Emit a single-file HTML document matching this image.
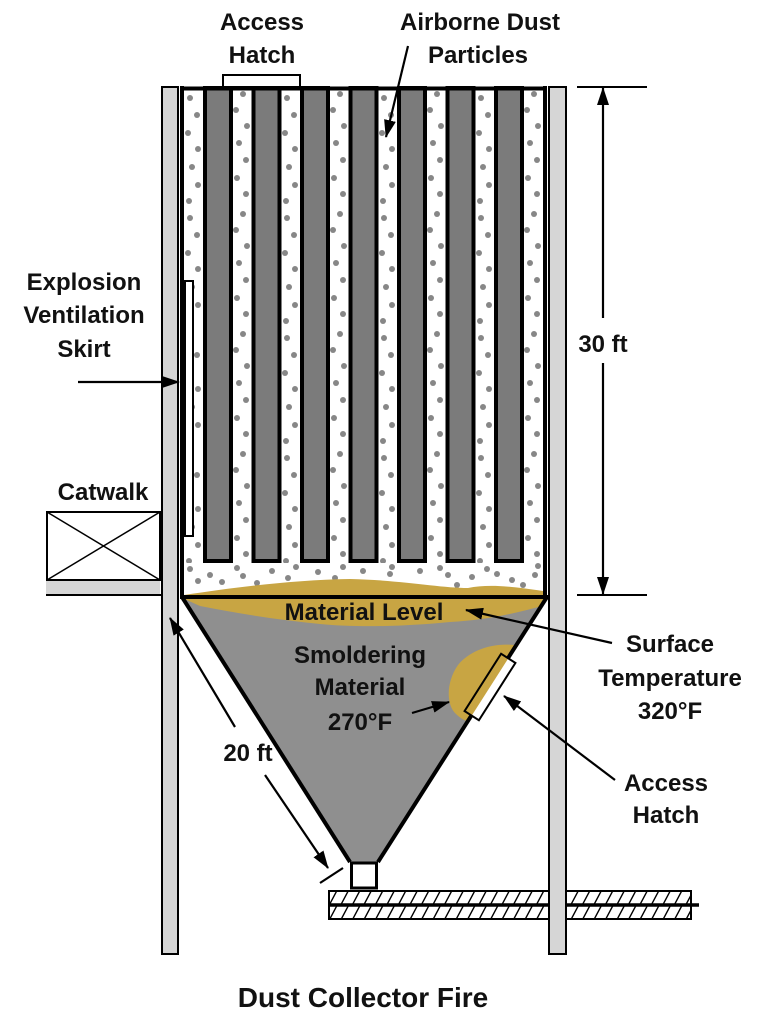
<!DOCTYPE html>
<html><head><meta charset="utf-8"><style>
html,body{margin:0;padding:0;background:#fff;}
svg{display:block;}
text{font-family:"Liberation Sans",sans-serif;font-weight:bold;fill:#111;text-anchor:middle;}
</style></head><body>
<svg width="759" height="1024" viewBox="0 0 759 1024" xmlns="http://www.w3.org/2000/svg">
<defs>
<pattern id="dots" patternUnits="userSpaceOnUse" x="184" y="90" width="97" height="120">
<g fill="#878787">
<circle cx="6" cy="8" r="3"/><circle cx="13" cy="25" r="3"/><circle cx="4" cy="43" r="3"/><circle cx="14" cy="59" r="3"/><circle cx="8" cy="77" r="3"/><circle cx="14" cy="95" r="3"/><circle cx="5" cy="111" r="3"/>
<circle cx="59" cy="4" r="3"/><circle cx="52" cy="20" r="3"/><circle cx="63" cy="36" r="3"/><circle cx="55" cy="53" r="3"/><circle cx="62" cy="70" r="3"/><circle cx="53" cy="88" r="3"/><circle cx="62" cy="104" r="3"/>
</g>
</pattern>
<pattern id="hatch" patternUnits="userSpaceOnUse" x="328" y="890" width="11.5" height="15">
<line x1="1" y1="15.5" x2="9.5" y2="-0.5" stroke="#000" stroke-width="1.4"/>
</pattern>
<clipPath id="hop"><polygon points="182,597 547,597 378,862 350,862"/></clipPath>
<marker id="ah" markerWidth="18" markerHeight="12" refX="17" refY="6" orient="auto" markerUnits="userSpaceOnUse"><path d="M0,0 L18,6 L0,12 Z" fill="#000"/></marker>
</defs>

<!-- dust region -->
<rect x="184" y="90" width="359" height="505" fill="url(#dots)"/>
<rect x="184" y="563" width="359" height="32" fill="#fff"/>
<g fill="#878787">
<circle cx="190" cy="569" r="3"/><circle cx="198" cy="581" r="3"/><circle cx="210" cy="575" r="3"/><circle cx="222" cy="582" r="3"/><circle cx="237" cy="568" r="3"/><circle cx="243" cy="576" r="3"/><circle cx="257" cy="583" r="3"/><circle cx="272" cy="571" r="3"/><circle cx="288" cy="578" r="3"/><circle cx="296" cy="567" r="3"/><circle cx="318" cy="572" r="3"/><circle cx="335" cy="578" r="3"/><circle cx="343" cy="567" r="3"/><circle cx="363" cy="571" r="3"/><circle cx="390" cy="574" r="3"/><circle cx="392" cy="567" r="3"/><circle cx="420" cy="571" r="3"/><circle cx="440" cy="568" r="3"/><circle cx="448" cy="575" r="3"/><circle cx="457" cy="585" r="3"/><circle cx="472" cy="577" r="3"/><circle cx="487" cy="569" r="3"/><circle cx="497" cy="574" r="3"/><circle cx="512" cy="580" r="3"/><circle cx="523" cy="585" r="3"/><circle cx="535" cy="575" r="3"/><circle cx="538" cy="566" r="3"/>
</g>

<!-- filter bars -->
<g fill="#7b7b7b" stroke="#000" stroke-width="4">
<rect x="205" y="88" width="26" height="473"/>
<rect x="253.5" y="88" width="26" height="473"/>
<rect x="302" y="88" width="26" height="473"/>
<rect x="350.5" y="88" width="26" height="473"/>
<rect x="399" y="88" width="26" height="473"/>
<rect x="447.5" y="88" width="26" height="473"/>
<rect x="496" y="88" width="26" height="473"/>
</g>

<!-- sand above line -->
<path d="M184,595 C230,588 290,580 350,579 C400,580 440,588 468,588 C488,584 510,586 543,591 L543,597 L184,597 Z" fill="#c8a543"/>

<!-- hopper -->
<polygon points="182,597 547,597 378,862 350,862" fill="#8f8f8f"/>
<g clip-path="url(#hop)" fill="#c8a543">
<path d="M180,597 L550,597 L550,604 C520,612 490,620 450,622 C410,626 360,628 320,624 C280,620 240,614 200,606 Z"/>
<path d="M520,646 C495,641 470,650 458,665 C446,682 446,705 456,714 C462,720 470,724 480,722 L530,660 Z"/>
</g>
<line x1="182" y1="597" x2="350" y2="862" stroke="#000" stroke-width="4"/>
<line x1="547" y1="597" x2="378" y2="862" stroke="#000" stroke-width="4"/>
<line x1="180" y1="597" x2="549" y2="597" stroke="#000" stroke-width="4"/>

<!-- hopper access hatch -->
<g transform="translate(490,687) rotate(32.5)">
<rect x="-8.5" y="-34" width="17" height="68" fill="#fff"/>
<rect x="-8.5" y="-34" width="8.5" height="68" fill="#c8a543"/>
<rect x="-8.5" y="-34" width="17" height="68" fill="none" stroke="#000" stroke-width="2"/>
</g>

<!-- collector walls -->
<line x1="182" y1="86" x2="182" y2="599" stroke="#000" stroke-width="4"/>
<line x1="545" y1="86" x2="545" y2="599" stroke="#000" stroke-width="4"/>
<line x1="180" y1="88.5" x2="547" y2="88.5" stroke="#000" stroke-width="4"/>

<!-- top access hatch -->
<rect x="223" y="75" width="77" height="12" fill="#fff" stroke="#000" stroke-width="2"/>

<!-- skirt -->
<rect x="185" y="281" width="8" height="255" fill="#fff" stroke="#000" stroke-width="2"/>

<!-- outlet -->
<rect x="351.5" y="863" width="25" height="25" fill="#fff" stroke="#000" stroke-width="3"/>

<!-- conveyor -->
<rect x="329" y="891" width="362" height="28" fill="url(#hatch)" stroke="#000" stroke-width="2"/>
<line x1="328" y1="905" x2="699" y2="905" stroke="#000" stroke-width="3.5"/>

<!-- posts -->
<rect x="162" y="87" width="16" height="867" fill="#d6d6d6" stroke="#000" stroke-width="2"/>
<rect x="549" y="87" width="17" height="867" fill="#d6d6d6" stroke="#000" stroke-width="2"/>

<!-- catwalk -->
<rect x="46" y="580" width="114" height="14" fill="#d6d6d6"/>
<line x1="46" y1="595" x2="161" y2="595" stroke="#000" stroke-width="2"/>
<rect x="47" y="512" width="113" height="68" fill="#fff" stroke="#000" stroke-width="2"/>
<line x1="47" y1="512" x2="160" y2="580" stroke="#000" stroke-width="1.5"/>
<line x1="47" y1="580" x2="160" y2="512" stroke="#000" stroke-width="1.5"/>

<!-- dimension 30 ft -->
<line x1="577" y1="87" x2="647" y2="87" stroke="#000" stroke-width="2"/>
<line x1="577" y1="595" x2="647" y2="595" stroke="#000" stroke-width="2"/>
<line x1="603" y1="318" x2="603" y2="88" stroke="#000" stroke-width="2.2" marker-end="url(#ah)"/>
<line x1="603" y1="363" x2="603" y2="594" stroke="#000" stroke-width="2.2" marker-end="url(#ah)"/>

<!-- dimension 20 ft -->
<line x1="235" y1="727" x2="170" y2="618" stroke="#000" stroke-width="2.2" marker-end="url(#ah)"/>
<line x1="265" y1="775" x2="328" y2="868" stroke="#000" stroke-width="2.2" marker-end="url(#ah)"/>
<line x1="320" y1="883" x2="343" y2="868" stroke="#000" stroke-width="2.2"/>

<!-- leaders -->
<g stroke="#000" stroke-width="2.2" fill="none">
<line x1="408" y1="46" x2="386" y2="137" marker-end="url(#ah)"/>
<line x1="78" y1="382" x2="179" y2="382" marker-end="url(#ah)"/>
<line x1="612" y1="643" x2="466" y2="610" marker-end="url(#ah)"/>
<line x1="412" y1="713" x2="449" y2="702" marker-end="url(#ah)"/>
<line x1="615" y1="780" x2="504" y2="696" marker-end="url(#ah)"/>
</g>

<!-- labels -->
<g font-size="24">
<text x="262" y="30">Access</text>
<text x="262" y="63">Hatch</text>
<text x="480" y="30">Airborne Dust</text>
<text x="478" y="63">Particles</text>
<text x="84" y="290">Explosion</text>
<text x="84" y="323">Ventilation</text>
<text x="84" y="357">Skirt</text>
<text x="103" y="500">Catwalk</text>
<text x="603" y="352">30 ft</text>
<text x="364" y="620">Material Level</text>
<text x="360" y="663">Smoldering</text>
<text x="360" y="695">Material</text>
<text x="360" y="730">270°F</text>
<text x="670" y="652">Surface</text>
<text x="670" y="686">Temperature</text>
<text x="670" y="719">320°F</text>
<text x="666" y="791">Access</text>
<text x="666" y="823">Hatch</text>
<text x="248" y="761">20 ft</text>
</g>
<text x="363" y="1007" font-size="28">Dust Collector Fire</text>
</svg>
</body></html>
